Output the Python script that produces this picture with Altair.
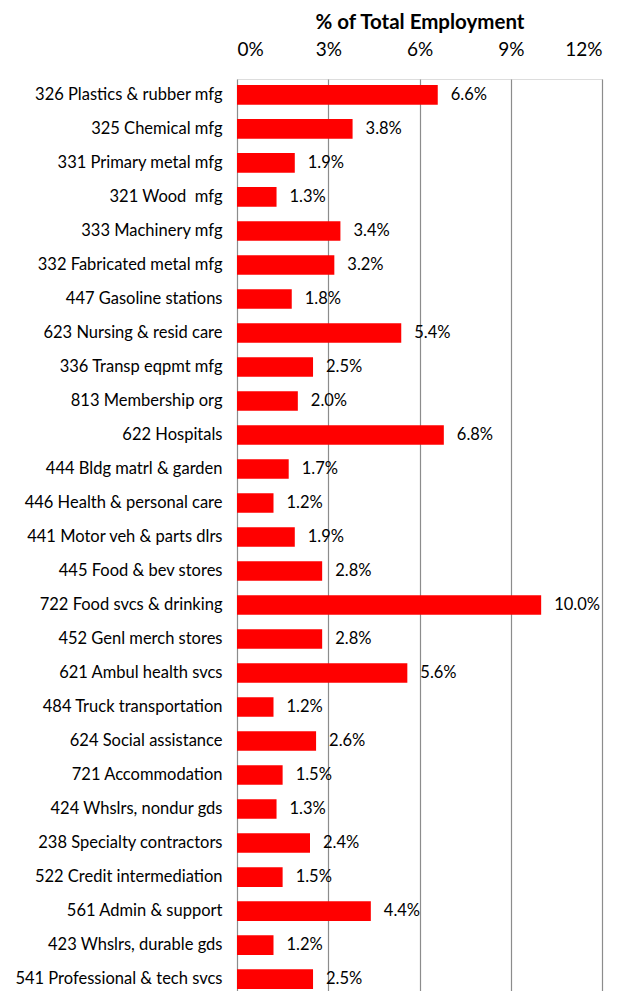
import altair as alt
import pandas as pd

industries = [
    "326 Plastics & rubber mfg", "325 Chemical mfg", "331 Primary metal mfg",
    "321 Wood\u00a0 mfg", "333 Machinery mfg", "332 Fabricated metal mfg",
    "447 Gasoline stations", "623 Nursing & resid care", "336 Transp eqpmt mfg",
    "813 Membership org", "622 Hospitals", "444 Bldg matrl & garden",
    "446 Health & personal care", "441 Motor veh & parts dlrs", "445 Food & bev stores",
    "722 Food svcs & drinking", "452 Genl merch stores", "621 Ambul health svcs",
    "484 Truck transportation", "624 Social assistance", "721 Accommodation",
    "424 Whslrs, nondur gds", "238 Specialty contractors", "522 Credit intermediation",
    "561 Admin & support", "423 Whslrs, durable gds", "541 Professional & tech svcs",
]
shares = [6.6, 3.8, 1.9, 1.3, 3.4, 3.2, 1.8, 5.4, 2.5, 2.0, 6.8, 1.7, 1.2, 1.9, 2.8,
          10.0, 2.8, 5.6, 1.2, 2.6, 1.5, 1.3, 2.4, 1.5, 4.4, 1.2, 2.5]
x_ticks = [0, 3, 6, 9, 12]

df = pd.DataFrame({"industry": industries, "share": shares})
df["label"] = df["share"].map(lambda v: f"{v:.1f}%")

FONT = "Lato"

y = alt.Y("industry:N", sort=industries, title=None,
          scale=alt.Scale(paddingInner=0.42, paddingOuter=0.18),
          axis=alt.Axis(labelFont=FONT, labelFontSize=16.5, labelColor="#000000",
                        labelPadding=15, ticks=False, domain=False, labelLimit=300))
x = alt.X("share:Q", title="% of Total Employment",
          scale=alt.Scale(domain=[0, 12], nice=False),
          axis=alt.Axis(orient="top", values=x_ticks, labelExpr="datum.value + '%'",
                        labelFont=FONT, labelFontSize=19, labelColor="#000000",
                        labelPadding=20, ticks=False, domain=False,
                        grid=True, gridColor="#8c8c8c", gridWidth=1.2,
                        titleFont=FONT, titleFontSize=20.5, titleFontWeight="bold",
                        titleColor="#000000", titlePadding=8))

bars = alt.Chart(df).mark_bar(color="#ff0000").encode(x=x, y=y)
text = alt.Chart(df).mark_text(align="left", baseline="middle", dx=13,
                               font=FONT, fontSize=16.5, color="#000000").encode(
    x="share:Q", y=alt.Y("industry:N", sort=industries), text="label:N")

chart = (bars + text).properties(
    width=365, height=916,
    autosize=alt.AutoSizeParams(type="none"),
    padding={"left": 229, "top": 71, "right": 24, "bottom": 0},
).configure_view(stroke=None).configure(background="white")

chart.save("out.html", embed_options={"renderer": "svg", "actions": False})
